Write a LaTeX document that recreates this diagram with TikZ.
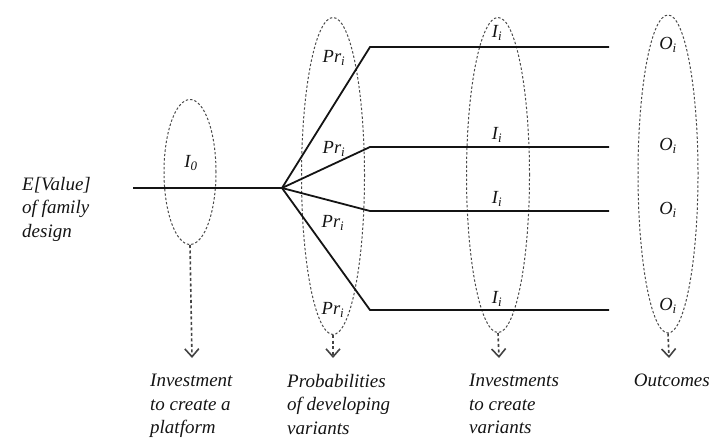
\documentclass[tikz,border=0pt]{standalone}
\usepackage{fontspec}
\setmainfont{Liberation Serif}
\usetikzlibrary{arrows.meta,positioning,shapes.geometric}
\definecolor{Ink}{HTML}{141414}
\definecolor{Dash}{HTML}{4A4A4A}
\tikzset{
  path/.style={draw=Ink,line width=1.8pt},
  group/.style={draw=Dash,ellipse,dash pattern=on 2.4pt off 2pt,line width=1pt,inner sep=0pt},
  down/.style={-{Straight Barb[length=8pt,width=14pt,line width=1.6pt]},draw=Ink!80,line width=1.6pt,dash pattern=on 3pt off 2.5pt},
  tag/.style={font=\fontsize{18.5}{20}\selectfont\itshape,text=Ink,inner sep=0pt},
  caption/.style={font=\fontsize{19}{23.5}\selectfont\itshape,text=Ink,align=left,inner sep=0pt,anchor=north west}
}
\newcommand{\sub}[2]{\textit{#1}\textsubscript{\textit{#2}}}

\begin{document}
\begin{tikzpicture}[x=1pt,y=-1pt]
  \useasboundingbox (0,0) rectangle (711,446);
  % dashed groups
  \node[group,minimum width=52pt,minimum height=145pt] (g0) at (190,172) {};
  \node[group,minimum width=63pt,minimum height=317pt] (gpr) at (333,176) {};
  \node[group,minimum width=63pt,minimum height=315pt] (gi) at (498,175) {};
  \node[group,minimum width=60pt,minimum height=318pt] (go) at (668,174) {};
  % tree
  \coordinate (start) at (133,188);
  \coordinate (fork) at (282,188);
  \coordinate (k1) at (370,47);
  \coordinate (k2) at (370,147);
  \coordinate (k3) at (370,211);
  \coordinate (k4) at (370,310);
  \coordinate (e1) at (609,47);
  \coordinate (e2) at (609,147);
  \coordinate (e3) at (609,211);
  \coordinate (e4) at (609,310);
  \draw[path] (start) -- (fork);
  \foreach \k in {1,2,3,4}
    \draw[path,line join=miter] (fork) -- (k\k) -- (e\k);
  % labels
  \node[tag] (i0) at (191,163) {\sub{I}{0}};
  \node[tag] (p1) at (334,58) {\sub{Pr}{i}};
  \node[tag] (p2) at (334,149) {\sub{Pr}{i}};
  \node[tag] (p3) at (333,223) {\sub{Pr}{i}};
  \node[tag] (p4) at (333,310) {\sub{Pr}{i}};
  \node[tag] (i1) at (497,33) {\sub{I}{i}};
  \node[tag] (i2) at (497,135) {\sub{I}{i}};
  \node[tag] (i3) at (497,199) {\sub{I}{i}};
  \node[tag] (i4) at (497,299) {\sub{I}{i}};
  \node[tag] (o1) at (668,45) {\sub{O}{i}};
  \node[tag] (o2) at (668,146) {\sub{O}{i}};
  \node[tag] (o3) at (668,210) {\sub{O}{i}};
  \node[tag] (o4) at (668,306) {\sub{O}{i}};
  \node[caption] (value) at (22,177) {E[Value]\\of family\\design};
  % arrows down
  \coordinate (t0) at (192,358);
  \coordinate (tpr) at (333,358);
  \coordinate (ti) at (499,358);
  \coordinate (to) at (669,358);
  \draw[down] (g0.south) -- (t0);
  \draw[down] (gpr.south) -- (tpr);
  \draw[down] (gi.south) -- (ti);
  \draw[down] (go.south) -- (to);
  % captions
  \node[caption] (cap0) at (150,374) {Investment\\to create a\\platform};
  \node[caption] (cappr) at (287,374) {Probabilities\\of developing\\variants};
  \node[caption] (capi) at (469,374) {Investments\\to create\\variants};
  \node[caption,anchor=north east] (capo) at (710,374) {Outcomes};
\end{tikzpicture}
\end{document}
